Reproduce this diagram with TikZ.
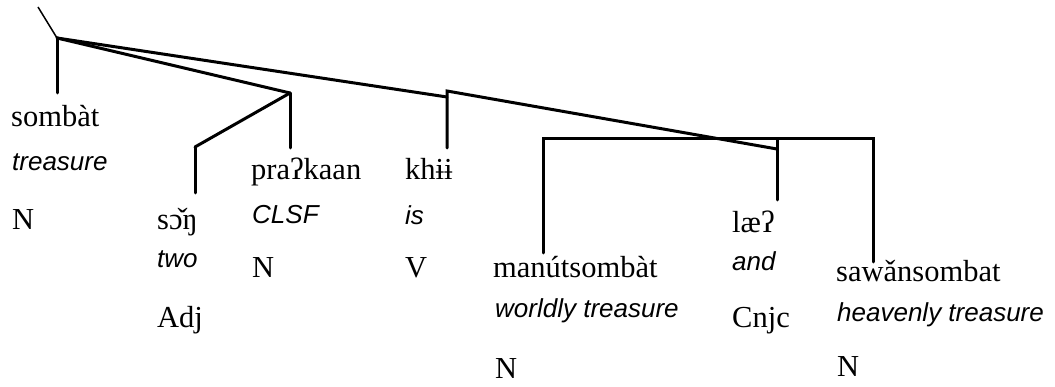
\documentclass[tikz,border=0pt]{standalone}
\usepackage{fontspec}
\setmainfont{Liberation Serif}
\newfontfamily\glossfont{Liberation Sans}
\begin{document}
\begin{tikzpicture}[x=1pt,y=-1pt,
  word/.style={anchor=base west,inner sep=0pt,font=\fontsize{30.5}{34}\selectfont},
  gloss/.style={anchor=base west,inner sep=0pt,font=\glossfont\itshape\fontsize{26}{30}\selectfont},
  branch/.style={line width=3pt,line cap=round,line join=miter}]
\useasboundingbox (0,0) rectangle (1055,387);
% words
\node[word] (w1) at (11,127) {sombàt};
\node[gloss] (g1) at (12,171) {treasure};
\node[word] (c1) at (12,230) {N};
\node[word] (w2) at (157,230) {sɔ̌ŋ};
\node[gloss] (g2) at (157,268) {two};
\node[word] (c2) at (157,328) {Adj};
\node[word] (w3) at (251,180) {praʔkaan};
\node[gloss] (g3) at (252,224) {CLSF};
\node[word] (c3) at (252,278) {N};
\node[word] (w4) at (405,180) {khɨɨ};
\node[gloss] (g4) at (405,225) {is};
\node[word] (c4) at (405,278) {V};
\node[word] (w5) at (493,278) {manútsombàt};
\node[gloss] (g5) at (495,318) {worldly treasure};
\node[word] (c5) at (495,378) {N};
\node[word] (w6) at (732,233) {læʔ};
\node[gloss] (g6) at (732,271) {and};
\node[word] (c6) at (732,328) {Cnjc};
\node[word] (w7) at (836,282) {sawǎnsombat};
\node[gloss] (g7) at (837,322) {heavenly treasure};
\node[word] (c7) at (837,377) {N};
% junctions
\coordinate (top) at (38,7);
\coordinate (root) at (57,38);
\coordinate (rootb) at (57,93);
\coordinate (pj) at (290,93);
\coordinate (pb) at (290,148);
\coordinate (sj) at (195,147);
\coordinate (sb) at (195,193);
\coordinate (kj) at (447,97);
\coordinate (kt) at (447,91);
\coordinate (kb) at (447,148);
\coordinate (lj) at (777,149);
\coordinate (lt) at (777,139);
\coordinate (lb) at (777,200);
\coordinate (mt) at (543,139);
\coordinate (mb) at (543,253);
\coordinate (st) at (873,139);
\coordinate (sbb) at (873,262);
% branches
\draw[line width=1.5pt] (top) -- (root);
\draw[branch] (root) -- (rootb);
\draw[branch] (root) -- (pj);
\draw[branch] (pj) -- (pb);
\draw[branch] (pj) -- (sj);
\draw[branch] (sj) -- (sb);
\draw[branch] (root) -- (kj);
\draw[branch] (kb) -- (kt) -- (lj);
\draw[branch] (lt) -- (lb);
\draw[branch] (mb) -- (mt) -- (st) -- (sbb);
\end{tikzpicture}
\end{document}
